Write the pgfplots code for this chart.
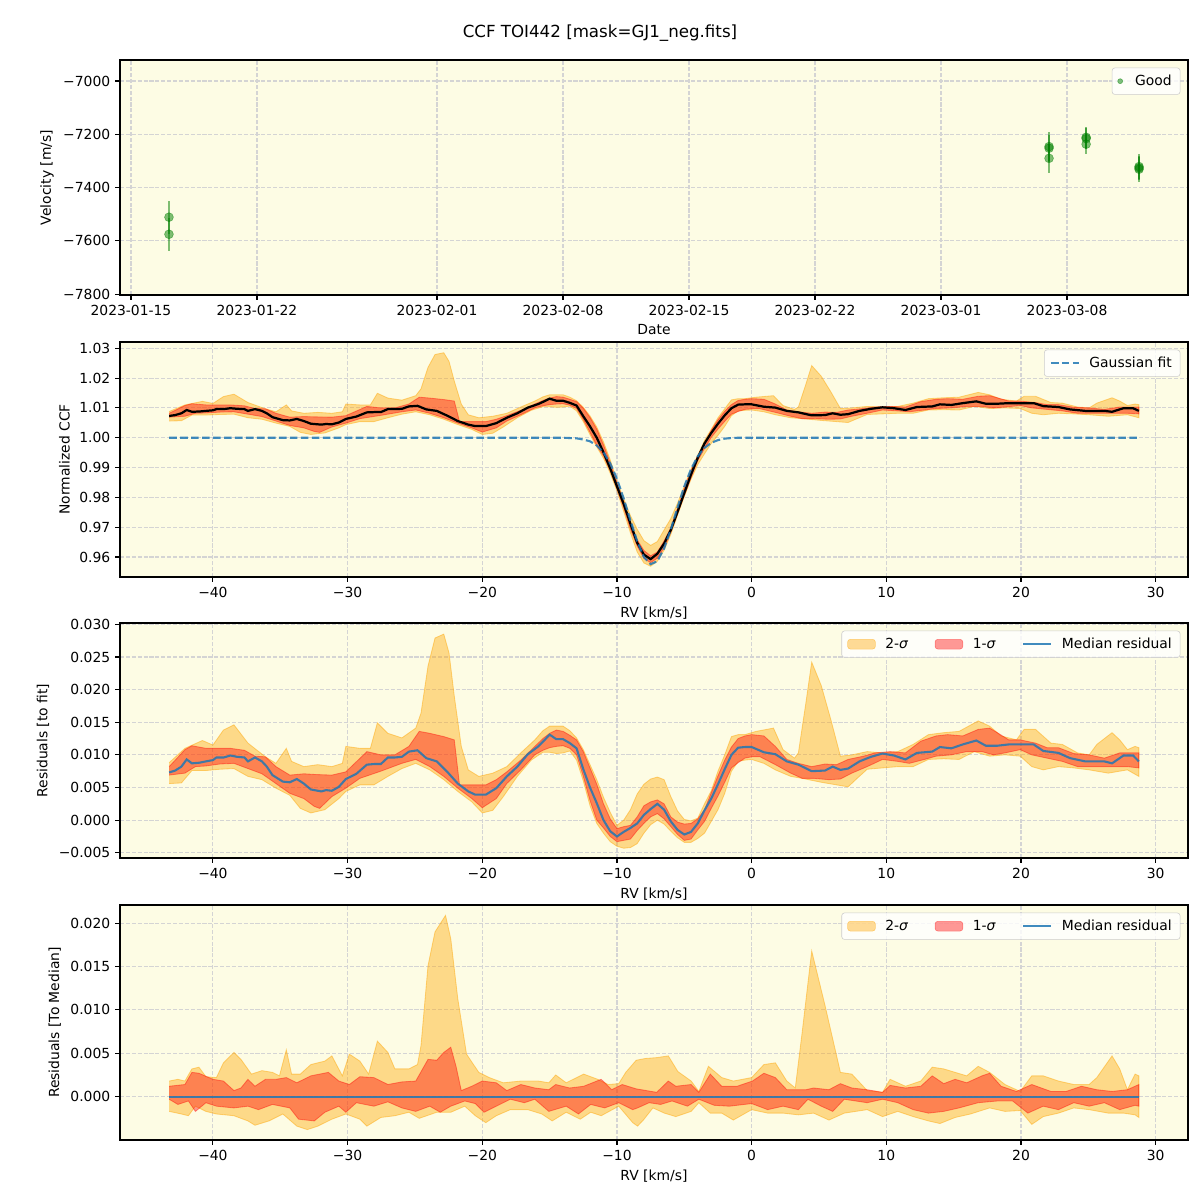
\documentclass[border=0pt]{standalone}
\usepackage{fontspec}
\setmainfont{DejaVu Sans}
\usepackage{pgfplots}
\pgfplotsset{compat=1.18}
\usepackage{pgfplotstable}

\definecolor{bgy}{RGB}{253,252,228}
\definecolor{mplorange}{RGB}{255,165,0}
\definecolor{mplred}{RGB}{255,0,0}
\definecolor{mplblue}{RGB}{31,119,180}
\definecolor{mplgreen}{RGB}{0,128,0}

% ---------- panel 1: velocities ----------
\pgfplotstableread{
x y e
2.11 -7511 62
2.11 -7575 62
51.0 -7246 55
51.0 -7252 50
51.0 -7290 55
53.06 -7211 40
53.06 -7216 38
53.06 -7237 35
56.0 -7321 47
56.0 -7326 45
56.0 -7331 47
}\tVel

% ---------- panel 3: residuals to fit ----------
\pgfplotstableread{
x y
-43.25 0.0073
-42.80 0.0076
-42.34 0.0082
-41.95 0.0093
-41.56 0.0087
-41.00 0.0088
-40.52 0.0090
-40.00 0.0092
-39.74 0.0096
-39.20 0.0096
-38.70 0.0099
-38.20 0.0097
-37.66 0.0096
-37.40 0.0090
-36.88 0.0096
-36.36 0.0090
-36.00 0.0082
-35.58 0.0069
-34.81 0.0059
-34.29 0.0058
-33.77 0.0063
-33.25 0.0056
-32.73 0.0047
-31.95 0.0044
-31.60 0.0046
-31.17 0.0045
-30.65 0.0051
-30.13 0.0063
-29.35 0.0071
-28.57 0.0085
-28.00 0.0086
-27.53 0.0086
-27.01 0.0096
-26.50 0.0096
-25.97 0.0097
-25.45 0.0105
-24.81 0.0107
-24.16 0.0095
-23.38 0.0090
-22.60 0.0074
-21.82 0.0056
-21.04 0.0044
-20.52 0.0039
-19.74 0.0039
-18.96 0.0049
-18.18 0.0067
-17.40 0.0082
-16.62 0.0101
-15.84 0.0113
-15.50 0.0120
-15.0 0.0131
-14.5 0.0124
-14.0 0.0124
-13.5 0.0118
-13.0 0.0110
-12.5 0.0078
-12.0 0.0050
-11.5 0.0026
-11.0 0.0000
-10.5 -0.0017
-10.0 -0.0025
-9.5 -0.0018
-9.0 -0.0012
-8.5 -0.0005
-8.0 0.0008
-7.5 0.0017
-7.0 0.0025
-6.5 0.0016
-6.0 -0.0002
-5.5 -0.0015
-5.0 -0.0022
-4.5 -0.0018
-4.0 -0.0005
-3.5 0.0015
-3.0 0.0033
-2.5 0.0055
-2.0 0.0078
-1.5 0.0100
-1.0 0.0111
-0.5 0.0112
0.0 0.0112
0.91 0.0104
1.76 0.0101
2.61 0.0090
3.47 0.0085
4.46 0.0075
5.45 0.0076
6.02 0.0082
6.59 0.0077
7.16 0.0079
8.01 0.0090
8.86 0.0097
9.72 0.0102
10.57 0.0099
11.42 0.0093
12.27 0.0103
13.41 0.0105
13.98 0.0112
14.83 0.0110
15.68 0.0116
16.68 0.0122
17.39 0.0114
18.24 0.0114
19.09 0.0116
19.94 0.0116
20.94 0.0116
21.65 0.0106
22.78 0.0103
23.64 0.0095
24.77 0.0090
26.19 0.0090
26.76 0.0087
27.61 0.0099
28.32 0.0099
28.75 0.0090
}\rMed

\pgfplotstableread{
x y
-43.25 0.0082
-42.08 0.0108
-41.56 0.0114
-40.52 0.0110
-39.74 0.0110
-38.70 0.0110
-37.66 0.0107
-36.88 0.0098
-36.10 0.0097
-35.32 0.0082
-34.29 0.0069
-33.25 0.0071
-32.47 0.0070
-31.17 0.0069
-30.13 0.0074
-28.57 0.0105
-27.53 0.0100
-26.49 0.0100
-25.45 0.0113
-24.68 0.0136
-23.90 0.0133
-22.86 0.0128
-22.08 0.0123
-21.69 0.0054
-20.78 0.0054
-19.74 0.0054
-18.96 0.0062
-18.18 0.0074
-17.14 0.0092
-16.10 0.0113
-15.50 0.0125
-15.0 0.0133
-14.5 0.0138
-14.0 0.0136
-13.5 0.0130
-13.0 0.0123
-12.5 0.0105
-12.0 0.0080
-11.5 0.0055
-11.0 0.0025
-10.5 0.0002
-10.0 -0.0013
-9.5 -0.0010
-9.0 -0.0008
-8.5 0.0005
-8.0 0.0022
-7.5 0.0028
-7.0 0.0031
-6.5 0.0025
-6.0 0.0005
-5.5 -0.0003
-5.0 -0.0006
-4.5 -0.0005
-4.0 0.0002
-3.5 0.0016
-3.0 0.0042
-2.5 0.0068
-2.0 0.0092
-1.5 0.0112
-1.0 0.0125
-0.5 0.0129
0.0 0.0131
0.91 0.0129
1.76 0.0113
2.61 0.0093
3.47 0.0087
4.46 0.0082
5.45 0.0086
6.31 0.0085
7.16 0.0093
8.30 0.0098
9.15 0.0103
10.28 0.0105
11.42 0.0103
12.56 0.0121
13.69 0.0129
14.55 0.0131
15.68 0.0129
16.82 0.0139
17.67 0.0141
18.24 0.0134
19.09 0.0123
19.94 0.0123
21.08 0.0118
21.93 0.0111
22.78 0.0111
23.92 0.0102
25.06 0.0100
26.19 0.0095
27.33 0.0103
28.75 0.0103
}\rUa

\pgfplotstableread{
x y
-43.25 0.0069
-42.08 0.0072
-41.30 0.0082
-40.52 0.0083
-39.48 0.0086
-38.44 0.0087
-37.40 0.0079
-36.36 0.0071
-35.32 0.0056
-34.29 0.0041
-33.25 0.0033
-32.47 0.0021
-32.08 0.0018
-31.17 0.0036
-30.13 0.0049
-29.09 0.0064
-27.53 0.0075
-25.97 0.0087
-24.94 0.0093
-23.90 0.0082
-22.86 0.0067
-21.82 0.0049
-20.78 0.0033
-20.00 0.0019
-18.96 0.0033
-18.18 0.0056
-17.14 0.0077
-16.10 0.0100
-15.50 0.0107
-15.0 0.0111
-14.5 0.0113
-14.0 0.0114
-13.5 0.0110
-13.0 0.0100
-12.5 0.0067
-12.0 0.0030
-11.5 0.0000
-11.0 -0.0012
-10.5 -0.0025
-10.0 -0.0033
-9.5 -0.0031
-9.0 -0.0029
-8.5 -0.0016
-8.0 -0.0005
-7.5 0.0005
-7.0 0.0010
-6.5 0.0002
-6.0 -0.0010
-5.5 -0.0022
-5.0 -0.0031
-4.5 -0.0029
-4.0 -0.0015
-3.5 -0.0002
-3.0 0.0018
-2.5 0.0037
-2.0 0.0058
-1.5 0.0080
-1.0 0.0088
-0.5 0.0095
0.0 0.0097
0.63 0.0097
1.76 0.0085
2.90 0.0072
3.75 0.0064
4.60 0.0064
5.74 0.0062
6.59 0.0063
7.44 0.0072
8.58 0.0082
9.72 0.0093
10.85 0.0090
11.70 0.0087
12.84 0.0093
13.69 0.0098
14.83 0.0100
15.97 0.0105
17.10 0.0105
17.95 0.0100
18.81 0.0103
19.94 0.0108
20.80 0.0100
21.93 0.0095
23.07 0.0090
24.20 0.0082
25.34 0.0082
26.48 0.0082
27.90 0.0082
28.75 0.0080
}\rLa

\pgfplotstableread{
x y
-43.25 0.0088
-42.08 0.0110
-40.78 0.0122
-40.00 0.0115
-39.22 0.0138
-38.44 0.0146
-37.40 0.0118
-36.10 0.0097
-35.32 0.0087
-34.55 0.0110
-34.16 0.0090
-33.25 0.0082
-32.21 0.0085
-31.17 0.0082
-30.39 0.0087
-30.13 0.0113
-29.09 0.0110
-28.31 0.0110
-27.79 0.0149
-27.01 0.0133
-25.97 0.0126
-24.94 0.0141
-24.55 0.0164
-24.03 0.0236
-23.51 0.0279
-22.86 0.0285
-22.47 0.0256
-22.08 0.0190
-21.56 0.0113
-21.04 0.0077
-20.26 0.0067
-19.22 0.0072
-18.18 0.0082
-17.14 0.0103
-16.10 0.0123
-15.50 0.0137
-15.0 0.0144
-14.5 0.0144
-14.0 0.0144
-13.5 0.0137
-13.0 0.0126
-12.5 0.0108
-12.0 0.0085
-11.5 0.0062
-11.0 0.0035
-10.5 0.0012
-10.0 -0.0008
-9.5 0.0000
-9.0 0.0016
-8.5 0.0040
-8.0 0.0055
-7.5 0.0063
-7.0 0.0066
-6.5 0.0062
-6.0 0.0036
-5.5 0.0014
-5.0 0.0001
-4.5 -0.0001
-4.0 0.0003
-3.5 0.0025
-3.0 0.0045
-2.5 0.0075
-2.0 0.0100
-1.5 0.0128
-1.0 0.0131
-0.5 0.0131
0.0 0.0134
0.34 0.0136
1.62 0.0141
2.33 0.0108
3.18 0.0095
3.47 0.0103
4.03 0.0180
4.46 0.0242
5.17 0.0206
5.88 0.0154
6.59 0.0098
7.44 0.0100
8.58 0.0105
9.72 0.0103
10.85 0.0105
11.99 0.0116
13.13 0.0131
14.26 0.0134
15.40 0.0136
16.82 0.0152
17.67 0.0144
18.52 0.0129
19.66 0.0123
20.23 0.0139
21.08 0.0139
22.22 0.0118
23.07 0.0116
24.20 0.0103
25.06 0.0100
25.63 0.0116
26.76 0.0134
27.33 0.0123
27.90 0.0108
28.47 0.0113
28.75 0.0111
}\rUb

\pgfplotstableread{
x y
-43.25 0.0056
-42.34 0.0057
-41.56 0.0076
-40.52 0.0076
-39.48 0.0078
-38.44 0.0079
-37.40 0.0067
-36.36 0.0062
-35.32 0.0049
-34.29 0.0038
-33.51 0.0018
-32.73 0.0011
-31.69 0.0016
-30.65 0.0033
-30.13 0.0044
-29.09 0.0054
-28.05 0.0054
-27.01 0.0067
-25.97 0.0079
-24.94 0.0087
-23.90 0.0077
-22.86 0.0062
-21.82 0.0044
-20.78 0.0028
-20.00 0.0011
-19.22 0.0015
-18.44 0.0036
-17.40 0.0067
-16.36 0.0092
-15.50 0.0104
-15.0 0.0104
-14.5 0.0102
-14.0 0.0103
-13.5 0.0106
-13.0 0.0092
-12.5 0.0060
-12.0 0.0022
-11.5 -0.0005
-11.0 -0.0020
-10.5 -0.0033
-10.0 -0.0040
-9.5 -0.0043
-9.0 -0.0042
-8.5 -0.0036
-8.0 -0.0020
-7.5 -0.0007
-7.0 0.0000
-6.5 -0.0006
-6.0 -0.0017
-5.5 -0.0027
-5.0 -0.0034
-4.5 -0.0034
-4.0 -0.0028
-3.5 -0.0020
-3.0 -0.0002
-2.5 0.0016
-2.0 0.0041
-1.5 0.0075
-1.0 0.0090
-0.5 0.0092
0.0 0.0093
0.91 0.0087
1.76 0.0077
2.90 0.0067
3.75 0.0064
5.17 0.0058
6.31 0.0054
7.16 0.0051
7.73 0.0062
8.58 0.0078
9.72 0.0080
10.85 0.0082
11.99 0.0082
13.13 0.0093
14.26 0.0094
15.40 0.0093
16.53 0.0105
17.67 0.0098
18.81 0.0100
19.94 0.0098
20.80 0.0082
21.65 0.0077
22.78 0.0082
23.92 0.0080
25.06 0.0077
26.48 0.0072
27.90 0.0077
28.75 0.0067
}\rLb

% ---------- panel 2: normalized CCF ----------
\pgfplotstableread{
x y
-43.25 1.0073
-42.80 1.0076
-42.34 1.0082
-41.95 1.0093
-41.56 1.0087
-41.00 1.0088
-40.52 1.0090
-40.00 1.0092
-39.74 1.0096
-39.20 1.0096
-38.70 1.0099
-38.20 1.0097
-37.66 1.0096
-37.40 1.0090
-36.88 1.0096
-36.36 1.0090
-36.00 1.0082
-35.58 1.0069
-34.81 1.0059
-34.29 1.0058
-33.77 1.0063
-33.25 1.0056
-32.73 1.0047
-31.95 1.0044
-31.60 1.0046
-31.17 1.0045
-30.65 1.0051
-30.13 1.0063
-29.35 1.0071
-28.57 1.0085
-28.00 1.0086
-27.53 1.0086
-27.01 1.0096
-26.50 1.0096
-25.97 1.0097
-25.45 1.0105
-24.81 1.0107
-24.16 1.0095
-23.38 1.0090
-22.60 1.0074
-21.82 1.0056
-21.04 1.0044
-20.52 1.0039
-19.74 1.0039
-18.96 1.0049
-18.18 1.0067
-17.40 1.0082
-16.62 1.0101
-15.84 1.0113
-15.50 1.0120
-15.0 1.0131
-14.5 1.0124
-14.0 1.0124
-13.5 1.0117
-13.0 1.0108
-12.5 1.0072
-12.0 1.0038
-11.5 1.0000
-11.0 0.9951
-10.5 0.9897
-10.0 0.9837
-9.5 0.9778
-9.0 0.9711
-8.5 0.9648
-8.0 0.9608
-7.5 0.9593
-7.0 0.9611
-6.5 0.9645
-6.0 0.9691
-5.5 0.9752
-5.0 0.9815
-4.5 0.9877
-4.0 0.9933
-3.5 0.9981
-3.0 1.0016
-2.5 1.0047
-2.0 1.0075
-1.5 1.0099
-1.0 1.0111
-0.5 1.0112
0.0 1.0112
0.91 1.0104
1.76 1.0101
2.61 1.0090
3.47 1.0085
4.46 1.0075
5.45 1.0076
6.02 1.0082
6.59 1.0077
7.16 1.0079
8.01 1.0090
8.86 1.0097
9.72 1.0102
10.57 1.0099
11.42 1.0093
12.27 1.0103
13.41 1.0105
13.98 1.0112
14.83 1.0110
15.68 1.0116
16.68 1.0122
17.39 1.0114
18.24 1.0114
19.09 1.0116
19.94 1.0116
20.94 1.0116
21.65 1.0106
22.78 1.0103
23.64 1.0095
24.77 1.0090
26.19 1.0090
26.76 1.0087
27.61 1.0099
28.32 1.0099
28.75 1.0090
}\cMed

\pgfplotstableread{
x y
-43.25 1.0082
-42.08 1.0108
-41.56 1.0114
-40.52 1.0110
-39.74 1.0110
-38.70 1.0110
-37.66 1.0107
-36.88 1.0098
-36.10 1.0097
-35.32 1.0082
-34.29 1.0069
-33.25 1.0071
-32.47 1.0070
-31.17 1.0069
-30.13 1.0074
-28.57 1.0105
-27.53 1.0100
-26.49 1.0100
-25.45 1.0113
-24.68 1.0136
-23.90 1.0133
-22.86 1.0128
-22.08 1.0123
-21.69 1.0054
-20.78 1.0054
-19.74 1.0054
-18.96 1.0062
-18.18 1.0074
-17.14 1.0092
-16.10 1.0113
-15.50 1.0125
-15.0 1.0133
-14.5 1.0138
-14.0 1.0136
-13.5 1.0129
-13.0 1.0121
-12.5 1.0099
-12.0 1.0068
-11.5 1.0029
-11.0 0.9976
-10.5 0.9916
-10.0 0.9849
-9.5 0.9786
-9.0 0.9715
-8.5 0.9658
-8.0 0.9622
-7.5 0.9604
-7.0 0.9617
-6.5 0.9654
-6.0 0.9698
-5.5 0.9764
-5.0 0.9831
-4.5 0.9890
-4.0 0.9940
-3.5 0.9982
-3.0 1.0025
-2.5 1.0060
-2.0 1.0089
-1.5 1.0111
-1.0 1.0125
-0.5 1.0129
0.0 1.0131
0.91 1.0129
1.76 1.0113
2.61 1.0093
3.47 1.0087
4.46 1.0082
5.45 1.0086
6.31 1.0085
7.16 1.0093
8.30 1.0098
9.15 1.0103
10.28 1.0105
11.42 1.0103
12.56 1.0121
13.69 1.0129
14.55 1.0131
15.68 1.0129
16.82 1.0139
17.67 1.0141
18.24 1.0134
19.09 1.0123
19.94 1.0123
21.08 1.0118
21.93 1.0111
22.78 1.0111
23.92 1.0102
25.06 1.0100
26.19 1.0095
27.33 1.0103
28.75 1.0103
}\cUa

\pgfplotstableread{
x y
-43.25 1.0069
-42.08 1.0072
-41.30 1.0082
-40.52 1.0083
-39.48 1.0086
-38.44 1.0087
-37.40 1.0079
-36.36 1.0071
-35.32 1.0056
-34.29 1.0041
-33.25 1.0033
-32.47 1.0021
-32.08 1.0018
-31.17 1.0036
-30.13 1.0049
-29.09 1.0064
-27.53 1.0075
-25.97 1.0087
-24.94 1.0093
-23.90 1.0082
-22.86 1.0067
-21.82 1.0049
-20.78 1.0033
-20.00 1.0019
-18.96 1.0033
-18.18 1.0056
-17.14 1.0077
-16.10 1.0100
-15.50 1.0107
-15.0 1.0111
-14.5 1.0113
-14.0 1.0114
-13.5 1.0109
-13.0 1.0098
-12.5 1.0061
-12.0 1.0018
-11.5 0.9974
-11.0 0.9939
-10.5 0.9889
-10.0 0.9829
-9.5 0.9765
-9.0 0.9694
-8.5 0.9637
-8.0 0.9595
-7.5 0.9581
-7.0 0.9596
-6.5 0.9631
-6.0 0.9683
-5.5 0.9745
-5.0 0.9806
-4.5 0.9866
-4.0 0.9923
-3.5 0.9964
-3.0 1.0001
-2.5 1.0029
-2.0 1.0055
-1.5 1.0079
-1.0 1.0088
-0.5 1.0095
0.0 1.0097
0.63 1.0097
1.76 1.0085
2.90 1.0072
3.75 1.0064
4.60 1.0064
5.74 1.0062
6.59 1.0063
7.44 1.0072
8.58 1.0082
9.72 1.0093
10.85 1.0090
11.70 1.0087
12.84 1.0093
13.69 1.0098
14.83 1.0100
15.97 1.0105
17.10 1.0105
17.95 1.0100
18.81 1.0103
19.94 1.0108
20.80 1.0100
21.93 1.0095
23.07 1.0090
24.20 1.0082
25.34 1.0082
26.48 1.0082
27.90 1.0082
28.75 1.0080
}\cLa

\pgfplotstableread{
x y
-43.25 1.0088
-42.08 1.0110
-40.78 1.0122
-40.00 1.0115
-39.22 1.0138
-38.44 1.0146
-37.40 1.0118
-36.10 1.0097
-35.32 1.0087
-34.55 1.0110
-34.16 1.0090
-33.25 1.0082
-32.21 1.0085
-31.17 1.0082
-30.39 1.0087
-30.13 1.0113
-29.09 1.0110
-28.31 1.0110
-27.79 1.0149
-27.01 1.0133
-25.97 1.0126
-24.94 1.0141
-24.55 1.0164
-24.03 1.0236
-23.51 1.0279
-22.86 1.0285
-22.47 1.0256
-22.08 1.0190
-21.56 1.0113
-21.04 1.0077
-20.26 1.0067
-19.22 1.0072
-18.18 1.0082
-17.14 1.0103
-16.10 1.0123
-15.50 1.0137
-15.0 1.0144
-14.5 1.0144
-14.0 1.0144
-13.5 1.0136
-13.0 1.0124
-12.5 1.0102
-12.0 1.0073
-11.5 1.0036
-11.0 0.9986
-10.5 0.9926
-10.0 0.9854
-9.5 0.9796
-9.0 0.9739
-8.5 0.9693
-8.0 0.9655
-7.5 0.9639
-7.0 0.9652
-6.5 0.9691
-6.0 0.9729
-5.5 0.9781
-5.0 0.9838
-4.5 0.9894
-4.0 0.9941
-3.5 0.9991
-3.0 1.0028
-2.5 1.0067
-2.0 1.0097
-1.5 1.0127
-1.0 1.0131
-0.5 1.0131
0.0 1.0134
0.34 1.0136
1.62 1.0141
2.33 1.0108
3.18 1.0095
3.47 1.0103
4.03 1.0180
4.46 1.0242
5.17 1.0206
5.88 1.0154
6.59 1.0098
7.44 1.0100
8.58 1.0105
9.72 1.0103
10.85 1.0105
11.99 1.0116
13.13 1.0131
14.26 1.0134
15.40 1.0136
16.82 1.0152
17.67 1.0144
18.52 1.0129
19.66 1.0123
20.23 1.0139
21.08 1.0139
22.22 1.0118
23.07 1.0116
24.20 1.0103
25.06 1.0100
25.63 1.0116
26.76 1.0134
27.33 1.0123
27.90 1.0108
28.47 1.0113
28.75 1.0111
}\cUb

\pgfplotstableread{
x y
-43.25 1.0056
-42.34 1.0057
-41.56 1.0076
-40.52 1.0076
-39.48 1.0078
-38.44 1.0079
-37.40 1.0067
-36.36 1.0062
-35.32 1.0049
-34.29 1.0038
-33.51 1.0018
-32.73 1.0011
-31.69 1.0016
-30.65 1.0033
-30.13 1.0044
-29.09 1.0054
-28.05 1.0054
-27.01 1.0067
-25.97 1.0079
-24.94 1.0087
-23.90 1.0077
-22.86 1.0062
-21.82 1.0044
-20.78 1.0028
-20.00 1.0011
-19.22 1.0015
-18.44 1.0036
-17.40 1.0067
-16.36 1.0092
-15.50 1.0104
-15.0 1.0104
-14.5 1.0102
-14.0 1.0103
-13.5 1.0106
-13.0 1.0090
-12.5 1.0054
-12.0 1.0010
-11.5 0.9969
-11.0 0.9931
-10.5 0.9881
-10.0 0.9822
-9.5 0.9753
-9.0 0.9681
-8.5 0.9617
-8.0 0.9580
-7.5 0.9569
-7.0 0.9586
-6.5 0.9623
-6.0 0.9676
-5.5 0.9740
-5.0 0.9803
-4.5 0.9861
-4.0 0.9910
-3.5 0.9946
-3.0 0.9981
-2.5 1.0008
-2.0 1.0038
-1.5 1.0074
-1.0 1.0090
-0.5 1.0092
0.0 1.0093
0.91 1.0087
1.76 1.0077
2.90 1.0067
3.75 1.0064
5.17 1.0058
6.31 1.0054
7.16 1.0051
7.73 1.0062
8.58 1.0078
9.72 1.0080
10.85 1.0082
11.99 1.0082
13.13 1.0093
14.26 1.0094
15.40 1.0093
16.53 1.0105
17.67 1.0098
18.81 1.0100
19.94 1.0098
20.80 1.0082
21.65 1.0077
22.78 1.0082
23.92 1.0080
25.06 1.0077
26.48 1.0072
27.90 1.0077
28.75 1.0067
}\cLb

\pgfplotstableread{
x y
-43.25 1.0000
-16.0 1.0000
-15.0 1.0000
-14.0 1.0000
-13.5 0.9999
-13.0 0.9998
-12.5 0.9994
-12.0 0.9988
-11.5 0.9974
-11.0 0.9951
-10.5 0.9914
-10.0 0.9862
-9.5 0.9796
-9.0 0.9723
-8.5 0.9653
-8.0 0.9600
-7.5 0.9576
-7.0 0.9586
-6.5 0.9629
-6.0 0.9693
-5.5 0.9767
-5.0 0.9837
-4.5 0.9895
-4.0 0.9938
-3.5 0.9966
-3.0 0.9983
-2.5 0.9992
-2.0 0.9997
-1.5 0.9999
-1.0 1.0000
28.75 1.0000
}\cGauss

% ---------- panel 4: residuals to median ----------
\pgfplotstableread{
x y
-43.25 0.0018
-42.60 0.0020
-42.08 0.0018
-41.56 0.0032
-41.04 0.0034
-40.52 0.0023
-39.74 0.0022
-39.22 0.0039
-38.44 0.0051
-37.92 0.0043
-37.14 0.0026
-36.36 0.0030
-35.58 0.0028
-35.06 0.0024
-34.55 0.0054
-34.16 0.0026
-33.51 0.0026
-32.73 0.0037
-31.69 0.0041
-31.17 0.0047
-30.39 0.0024
-29.87 0.0049
-29.09 0.0041
-28.44 0.0026
-27.79 0.0064
-27.01 0.0051
-26.49 0.0032
-25.45 0.0032
-24.81 0.0037
-24.55 0.0059
-24.03 0.0151
-23.51 0.0190
-22.73 0.0209
-22.34 0.0182
-21.82 0.0113
-21.17 0.0049
-20.26 0.0028
-19.48 0.0022
-18.44 0.0016
-17.14 0.0018
-15.84 0.0018
-15.06 0.0016
-14.55 0.0025
-13.77 0.0016
-12.47 0.0026
-11.43 0.0020
-10.65 0.0014
-9.87 0.0015
-9.35 0.0028
-8.57 0.0042
-7.90 0.0044
-7.05 0.0045
-6.19 0.0047
-5.48 0.0029
-4.49 0.0018
-3.92 0.0006
-3.21 0.0035
-2.22 0.0022
-1.36 0.0018
0.00 0.0022
0.91 0.0037
1.76 0.0039
2.61 0.0018
3.24 0.0010
3.75 0.0074
4.46 0.0168
5.45 0.0105
6.59 0.0028
7.44 0.0026
8.58 0.0007
9.72 0.0005
10.28 0.0020
11.42 0.0012
12.56 0.0018
13.41 0.0034
14.26 0.0032
15.11 0.0028
15.97 0.0024
16.82 0.0035
17.67 0.0028
18.81 0.0014
19.94 0.0006
20.80 0.0024
21.65 0.0024
22.78 0.0018
23.92 0.0014
25.06 0.0014
25.63 0.0022
26.76 0.0047
27.33 0.0032
27.90 0.0008
28.47 0.0026
28.75 0.0024
}\dUb

\pgfplotstableread{
x y
-43.25 0.0012
-42.08 0.0014
-41.56 0.0028
-41.04 0.0027
-40.00 0.0020
-39.22 0.0018
-38.44 0.0007
-37.92 0.0010
-37.40 0.0020
-36.88 0.0012
-36.10 0.0020
-35.32 0.0020
-34.55 0.0022
-33.77 0.0016
-32.73 0.0024
-31.43 0.0028
-30.65 0.0018
-29.87 0.0014
-29.09 0.0023
-28.05 0.0022
-27.01 0.0014
-25.97 0.0017
-24.94 0.0018
-24.03 0.0043
-23.38 0.0042
-22.86 0.0051
-22.34 0.0057
-21.95 0.0035
-21.56 0.0007
-20.78 0.0012
-20.00 0.0018
-18.96 0.0016
-18.18 0.0007
-17.14 0.0014
-16.10 0.0010
-15.06 0.0008
-14.55 0.0014
-13.51 0.0010
-12.47 0.0012
-11.17 0.0020
-10.39 0.0008
-9.61 0.0014
-8.57 0.0009
-7.05 0.0005
-6.19 0.0018
-5.63 0.0012
-4.49 0.0014
-3.92 0.0005
-3.07 0.0026
-2.22 0.0012
-1.08 0.0012
0.06 0.0018
0.91 0.0027
1.76 0.0022
2.61 0.0008
4.03 0.0008
4.60 0.0010
5.74 0.0008
6.59 0.0015
7.44 0.0010
8.58 0.0008
9.72 0.0005
10.28 0.0013
11.42 0.0010
12.56 0.0012
13.41 0.0024
14.26 0.0015
15.11 0.0020
15.97 0.0016
17.10 0.0024
17.67 0.0027
18.52 0.0012
19.66 0.0006
20.80 0.0014
22.22 0.0006
23.35 0.0006
24.49 0.0012
25.63 0.0008
26.76 0.0006
27.90 0.0008
28.75 0.0014
}\dUa

\pgfplotstableread{
x y
-43.25 -0.0003
-42.60 -0.0009
-41.82 -0.0005
-41.30 -0.0017
-40.52 -0.0007
-39.74 -0.0011
-38.44 -0.0013
-37.40 -0.0011
-36.62 -0.0015
-35.58 -0.0009
-34.29 -0.0013
-33.64 -0.0026
-32.47 -0.0028
-31.69 -0.0018
-30.65 -0.0011
-30.13 -0.0018
-29.35 -0.0007
-28.05 -0.0011
-27.01 -0.0006
-25.97 -0.0013
-24.94 -0.0017
-23.90 -0.0011
-23.12 -0.0018
-22.34 -0.0011
-21.30 -0.0005
-20.52 -0.0008
-19.87 -0.0018
-18.96 -0.0011
-17.92 -0.0003
-16.88 -0.0007
-16.10 -0.0003
-15.06 -0.0017
-13.77 -0.0011
-12.86 -0.0020
-11.95 -0.0009
-10.91 -0.0013
-9.87 -0.0007
-8.83 -0.0015
-8.47 -0.0013
-7.61 -0.0007
-6.76 -0.0009
-5.91 -0.0005
-4.77 -0.0011
-3.92 -0.0003
-2.78 -0.0010
-1.65 -0.0011
0.00 -0.0008
1.19 -0.0015
2.33 -0.0011
3.47 -0.0015
4.18 -0.0003
5.17 -0.0011
6.02 -0.0017
6.88 -0.0003
8.58 -0.0007
9.72 -0.0003
10.85 -0.0007
11.99 -0.0015
13.13 -0.0019
14.26 -0.0017
15.40 -0.0013
16.82 -0.0007
18.24 -0.0005
19.38 -0.0005
20.51 -0.0019
21.65 -0.0011
22.78 -0.0015
23.92 -0.0007
25.06 -0.0011
26.19 -0.0007
27.33 -0.0015
28.47 -0.0010
28.75 -0.0011
}\dLa

\pgfplotstableread{
x y
-43.25 -0.0017
-42.34 -0.0020
-41.82 -0.0022
-41.30 -0.0011
-40.52 -0.0017
-39.74 -0.0020
-38.44 -0.0022
-37.40 -0.0028
-36.88 -0.0033
-35.84 -0.0028
-34.81 -0.0020
-33.77 -0.0034
-32.99 -0.0038
-32.21 -0.0034
-31.17 -0.0026
-30.13 -0.0020
-29.09 -0.0026
-28.57 -0.0034
-27.53 -0.0024
-26.49 -0.0022
-25.45 -0.0018
-24.68 -0.0025
-23.38 -0.0018
-22.34 -0.0018
-21.30 -0.0011
-20.52 -0.0022
-19.74 -0.0030
-18.96 -0.0022
-17.92 -0.0015
-16.62 -0.0015
-15.58 -0.0020
-14.81 -0.0028
-13.77 -0.0018
-12.73 -0.0026
-11.95 -0.0018
-11.17 -0.0022
-9.87 -0.0011
-8.83 -0.0030
-8.47 -0.0034
-8.04 -0.0027
-7.33 -0.0013
-6.48 -0.0019
-5.63 -0.0023
-4.49 -0.0017
-3.92 -0.0007
-3.07 -0.0019
-2.22 -0.0019
-1.36 -0.0027
0.00 -0.0015
1.19 -0.0019
2.33 -0.0019
3.47 -0.0021
4.60 -0.0019
5.74 -0.0027
6.88 -0.0019
8.58 -0.0015
9.72 -0.0023
10.85 -0.0017
11.99 -0.0023
13.13 -0.0028
13.98 -0.0031
15.11 -0.0024
16.25 -0.0020
17.67 -0.0013
18.81 -0.0017
19.94 -0.0016
20.80 -0.0032
21.65 -0.0023
22.78 -0.0019
23.92 -0.0013
25.06 -0.0015
26.48 -0.0019
27.61 -0.0019
28.47 -0.0021
28.75 -0.0024
}\dLb

\pgfplotstableread{
x y
-43.25 0
28.75 0
}\dMed

% ---- band polygons: upper edge, then lower edge in reverse order ----
\pgfplotstablesort[sort key=x, sort cmp={float >}]{\cLbR}{\cLb}
\pgfplotstablesort[sort key=x, sort cmp={float >}]{\cLaR}{\cLa}
\pgfplotstablesort[sort key=x, sort cmp={float >}]{\rLbR}{\rLb}
\pgfplotstablesort[sort key=x, sort cmp={float >}]{\rLaR}{\rLa}
\pgfplotstablesort[sort key=x, sort cmp={float >}]{\dLbR}{\dLb}
\pgfplotstablesort[sort key=x, sort cmp={float >}]{\dLaR}{\dLa}
\pgfplotstablevertcat{\cUb}{\cLbR}
\pgfplotstablevertcat{\cUa}{\cLaR}
\pgfplotstablevertcat{\rUb}{\rLbR}
\pgfplotstablevertcat{\rUa}{\rLaR}
\pgfplotstablevertcat{\dUb}{\dLbR}
\pgfplotstablevertcat{\dUa}{\dLaR}

\pgfplotsset{
  mpl/.style={
    width=768.96pt, height=169.2pt, scale only axis,
    anchor=north west,
    axis background/.style={fill=bgy},
    grid=major,
    major grid style={black!17, line width=0.8pt, dash pattern=on 2.96pt off 1.28pt},
    tick align=outside, tick pos=left, major tick length=3.5pt,
    every tick/.style={black, line width=0.8pt},
    axis line style={line width=0.8pt},
    scaled y ticks=false, scaled x ticks=false,
    tick label style={font=\fontsize{10}{12}\selectfont},
    label style={font=\fontsize{10}{12}\selectfont},
    legend style={font=\fontsize{10}{12}\selectfont, draw=black!20, rounded corners=2pt,
      fill=white, fill opacity=0.8, text opacity=1, draw opacity=1,
      at={(1,1)}, anchor=north east, xshift=-5.5pt, yshift=-5.5pt,
      inner xsep=4pt, inner ysep=3pt},
    legend cell align=left,
  },
  rvaxis/.style={
    xmin=-46.9, xmax=32.4,
    xtick={-40,-30,-20,-10,0,10,20,30},
    xticklabels={−40,−30,−20,−10,0,10,20,30},
    xlabel={RV [km/s]},
  },
  threecol/.style={
    legend columns=3,
    legend style={
      /tikz/every odd column/.append style={column sep=5pt},
      /tikz/every even column/.append style={column sep=17pt},
      /tikz/column 6/.style={column sep=0pt}},
  },
  mplpatch/.style={legend image code/.code={\draw[##1] (0pt,-3.5pt) rectangle (20pt,3.5pt);}},
  mplline/.style={legend image code/.code={\draw[##1] (0pt,0pt) -- (20pt,0pt);}},
  mplmark/.style={legend image code/.code={\draw[mark repeat=2, mark phase=2, ##1] plot coordinates {(0pt,0pt) (10pt,0pt) (20pt,0pt)};}},
  band2/.style={fill=mplorange, fill opacity=0.4, draw=mplorange, draw opacity=0.45, line width=0.6pt},
  band1/.style={fill=mplred, fill opacity=0.4, draw=mplred, draw opacity=0.4, line width=0.6pt},
}

\begin{document}
\begin{tikzpicture}[x=1pt,y=1pt]
\path[use as bounding box] (0,0) rectangle (864,-864);
\node[font=\fontsize{12}{14}\selectfont] at (432,-24) {CCF TOI442 [mask=GJ1\_neg.fits]};

% ---- panel 1 ----
\begin{axis}[mpl, at={(86.4pt,-43.2pt)},
  xmin=-0.61, xmax=58.72, ymin=-7803, ymax=-6921,
  xtick={0,7,17,24,31,38,45,52},
  xticklabels={2023-01-15,2023-01-22,2023-02-01,2023-02-08,2023-02-15,2023-02-22,2023-03-01,2023-03-08},
  ytick={-7800,-7600,-7400,-7200,-7000},
  yticklabels={−7800,−7600,−7400,−7200,−7000},
  xlabel={Date}, ylabel={Velocity [m/s]},
  legend style={/tikz/every odd column/.append style={column sep=7pt}}]
\addplot[forget plot, only marks, mark=*, mark size=3.2pt, color=mplgreen,
  mark options={fill=mplgreen, fill opacity=0.5, draw opacity=0.5},
  error bars/.cd, y dir=both, y explicit, error mark=none,
  error bar style={line width=1.5pt, draw opacity=0.5}]
  table[x=x, y=y, y error=e] {\tVel};
\addlegendimage{mplmark, only marks, mark=*, mark size=1.8pt, mplgreen, mark options={fill opacity=0.5, draw opacity=0.5}}
\addlegendentry{Good}
\end{axis}

% ---- panel 2 ----
\begin{axis}[mpl, rvaxis, at={(86.4pt,-246.24pt)},
  ymin=0.9533, ymax=1.0321,
  ytick={0.96,0.97,0.98,0.99,1.00,1.01,1.02,1.03},
  yticklabels={0.96,0.97,0.98,0.99,1.00,1.01,1.02,1.03},
  ylabel={Normalized CCF},
  legend style={/tikz/every odd column/.append style={column sep=5pt}}]
\addplot[band2, forget plot] table {\cUb};
\addplot[band1, forget plot] table {\cUa};
\addplot[black, line width=1.6pt, forget plot] table {\cMed};
\addplot[mplblue, opacity=0.85, line width=1.5pt, dash pattern=on 5.5pt off 2.4pt, forget plot] table {\cGauss};
\addlegendimage{mplline, mplblue, opacity=0.85, line width=1.5pt, dash pattern=on 5.5pt off 2.4pt}
\addlegendentry{Gaussian fit}
\end{axis}

% ---- panel 3 ----
\begin{axis}[mpl, rvaxis, threecol, at={(86.4pt,-448.56pt)},
  ymin=-0.0058, ymax=0.0302,
  ytick={-0.005,0,0.005,0.01,0.015,0.02,0.025,0.03},
  yticklabels={−0.005,0.000,0.005,0.010,0.015,0.020,0.025,0.030},
  ylabel={Residuals [to fit]}]
\addplot[band2, forget plot] table {\rUb};
\addplot[band1, forget plot] table {\rUa};
\addplot[mplblue, opacity=0.85, line width=1.5pt, forget plot] table {\rMed};
\addlegendimage{mplpatch, fill=mplorange, fill opacity=0.4, draw=mplorange, draw opacity=0.45}
\addlegendentry{2-\textit{σ}}
\addlegendimage{mplpatch, fill=mplred, fill opacity=0.4, draw=mplred, draw opacity=0.4}
\addlegendentry{1-\textit{σ}}
\addlegendimage{mplline, mplblue, opacity=0.85, line width=1.5pt}
\addlegendentry{Median residual}
\end{axis}

% ---- panel 4 ----
\begin{axis}[mpl, rvaxis, threecol, at={(86.4pt,-651.6pt)},
  ymin=-0.0050, ymax=0.0221,
  ytick={0,0.005,0.01,0.015,0.02},
  yticklabels={0.000,0.005,0.010,0.015,0.020},
  ylabel={Residuals [To Median]}]
\addplot[band2, forget plot] table {\dUb};
\addplot[band1, forget plot] table {\dUa};
\addplot[mplblue, opacity=0.85, line width=1.5pt, forget plot] table {\dMed};
\addlegendimage{mplpatch, fill=mplorange, fill opacity=0.4, draw=mplorange, draw opacity=0.45}
\addlegendentry{2-\textit{σ}}
\addlegendimage{mplpatch, fill=mplred, fill opacity=0.4, draw=mplred, draw opacity=0.4}
\addlegendentry{1-\textit{σ}}
\addlegendimage{mplline, mplblue, opacity=0.85, line width=1.5pt}
\addlegendentry{Median residual}
\end{axis}
\end{tikzpicture}
\end{document}
